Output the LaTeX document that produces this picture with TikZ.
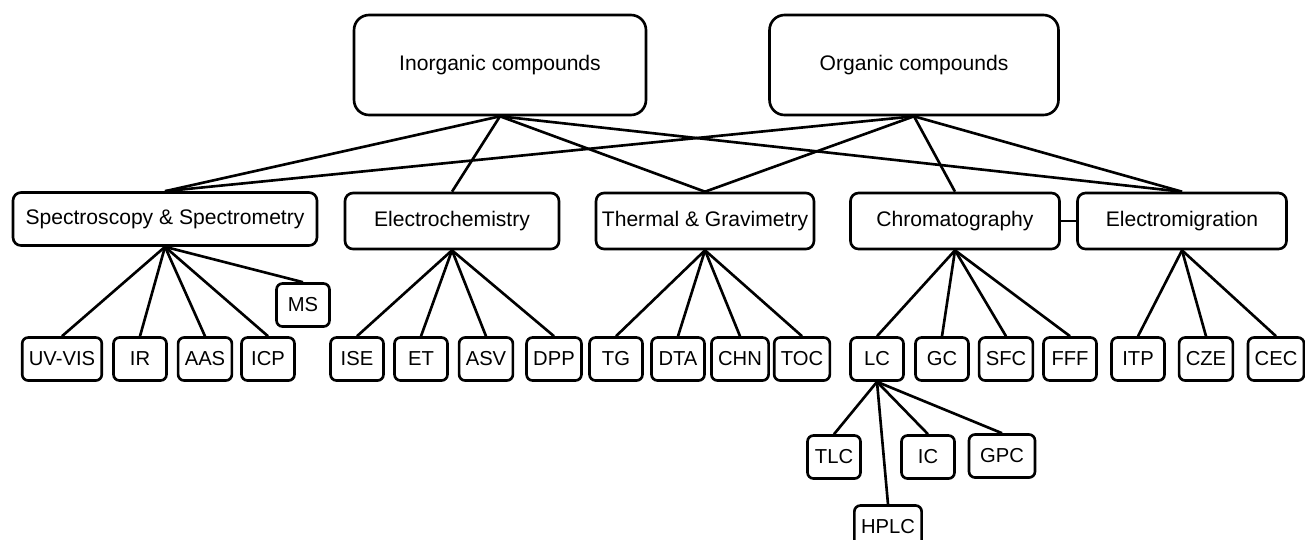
\documentclass[tikz,border=0pt]{standalone}
\usepackage{fontspec}
\setmainfont{Liberation Sans}

\begin{document}
\begin{tikzpicture}[x=0.02cm, y=-0.02cm, line width=1.5pt,
        group/.style={draw, rounded corners=0.3cm, minimum height=2cm, font=\fontsize{12}{14}\selectfont},
        method/.style={draw, rounded corners=0.16cm, minimum height=1.12cm, font=\fontsize{12}{14}\selectfont},
        leaf/.style={draw, rounded corners=0.12cm, minimum width=1.06cm, minimum height=0.86cm, inner xsep=3.8pt, font=\fontsize{11.5}{13}\selectfont}]

        \useasboundingbox (0,0) rectangle (1305,539);

        % Compound groups
        \node[group, minimum width=5.84cm] (inorg) at (500,65) {Inorganic compounds};
        \node[group, minimum width=5.78cm] (org) at (914,65) {Organic compounds};

        % Methods
        \node[method, minimum width=6.08cm, minimum height=1.06cm] (spec) at (165,219) {Spectroscopy \& Spectrometry};
        \node[method, minimum width=4.28cm] (electro) at (452,221) {Electrochemistry};
        \node[method, minimum width=4.32cm] (thermal) at (705,221) {Thermal \& Gravimetry};
        \node[method, minimum width=4.18cm] (chrom) at (955,221) {Chromatography};
        \node[method, minimum width=4.18cm] (emig) at (1182,221) {Electromigration};

        \foreach \m in {spec,electro,thermal,emig}
            \draw (inorg.south) -- (\m.north);
        \foreach \m in {spec,thermal,chrom,emig}
            \draw (org.south) -- (\m.north);
        \draw (chrom) -- (emig);

        % Techniques
        \foreach \n/\x/\t/\p in {uvvis/62/UV-VIS/spec, ir/140/IR/spec, aas/205/AAS/spec, icp/268/ICP/spec,
                ise/357/ISE/electro, et/421/ET/electro, asv/486/ASV/electro, dpp/554/DPP/electro,
                tg/616/TG/thermal, dta/678/DTA/thermal, chn/740/CHN/thermal, toc/802/TOC/thermal,
                lc/877/LC/chrom, gc/942/GC/chrom, sfc/1006/SFC/chrom, fff/1070/FFF/chrom,
                itp/1138/ITP/emig, cze/1206/CZE/emig, cec/1276/CEC/emig}
            {
                \node[leaf] (\n) at (\x,359) {\t};
                \draw (\p.south) -- (\n.north);
            }

        \node[leaf] (ms) at (303,305) {MS};
        \draw (spec.south) -- (ms.north);

        % Liquid chromatography
        \node[leaf] (tlc) at (834,457) {TLC};
        \node[leaf] (ic) at (928,457) {IC};
        \node[leaf, minimum width=1.32cm] (gpc) at (1002,456) {GPC};
        \node[leaf] (hplc) at (888,527) {HPLC};

        \foreach \n in {tlc,hplc,ic,gpc}
            \draw (lc.south) -- (\n.north);

    \end{tikzpicture}
\end{document}
